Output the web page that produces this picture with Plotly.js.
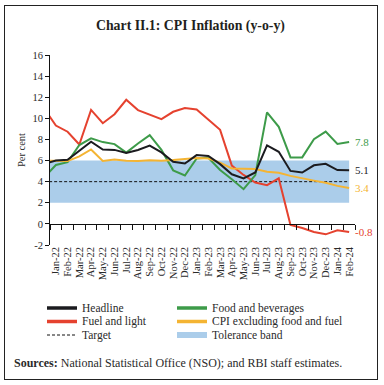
<!DOCTYPE html>
<html>
<head>
<meta charset="utf-8">
<script src="https://cdn.plot.ly/plotly-3.0.1.min.js"></script>
<style>
  html, body { margin: 0; padding: 0; background: #fff; }
  #wrap { position: relative; width: 384px; height: 385px; }
  #frame { position: absolute; left: 4px; top: 5px; width: 372px; height: 373px; border: 1.4px solid #222; pointer-events: none; z-index: 5; }
  #chart { position: absolute; left: 0; top: 0; width: 384px; height: 385px; }
</style>
</head>
<body>
<div id="wrap">
  <div id="chart"></div>
  <div id="frame"></div>
</div>
<script>
// Categories (Dec-21 is only partly visible at the left edge, clipped by the axis)
const months = ['Dec-21','Jan-22','Feb-22','Mar-22','Apr-22','May-22','Jun-22','Jul-22','Aug-22','Sep-22','Oct-22','Nov-22','Dec-22',
  'Jan-23','Feb-23','Mar-23','Apr-23','May-23','Jun-23','Jul-23','Aug-23','Sep-23','Oct-23','Nov-23','Dec-23','Jan-24','Feb-24'];

const headline = [5.66, 6.01, 6.07, 6.95, 7.79, 7.04, 7.01, 6.71, 7.00, 7.41, 6.77, 5.88, 5.72,
  6.52, 6.44, 5.66, 4.70, 4.31, 4.87, 7.44, 6.83, 5.02, 4.87, 5.55, 5.69, 5.10, 5.09];
const food = [4.40, 5.58, 5.85, 7.47, 8.10, 7.75, 7.56, 6.75, 7.62, 8.41, 7.01, 5.07, 4.58,
  6.20, 6.26, 5.11, 4.22, 3.29, 4.63, 10.57, 9.19, 6.30, 6.30, 8.02, 8.74, 7.58, 7.76];
const fuel = [10.95, 9.32, 8.73, 7.52, 10.80, 9.54, 10.39, 11.76, 10.78, 10.39, 9.93, 10.62, 10.97,
  10.84, 9.90, 8.91, 5.52, 4.64, 3.92, 3.67, 4.31, -0.11, -0.39, -0.77, -0.99, -0.60, -0.77];
const core = [6.00, 6.00, 5.95, 6.40, 7.05, 5.97, 6.10, 5.98, 5.95, 6.02, 5.98, 6.05, 6.15,
  6.25, 6.20, 5.80, 5.25, 5.20, 5.20, 4.95, 4.85, 4.55, 4.30, 4.10, 3.90, 3.60, 3.40];

const targetValue = 4;
const bandLow = 2;
const bandHigh = 6;

const seriesNames = ['Headline', 'Food and beverages', 'Fuel and light', 'CPI excluding food and fuel'];
const endLabels = ['5.1', '7.8', '-0.8', '3.4'];

const yTicks = [-2, 0, 2, 4, 6, 8, 10, 12, 14, 16];
const yRange = [-2, 16];

const colors = { headline: '#1b1b1f', food: '#3d9b49', fuel: '#e5422f', core: '#f4b433', band: '#abcdea', target: '#111111' };
const FONT = 'Liberation Serif, Times New Roman, serif';
const TXT = '#2a2a2a';

const targetArr = months.map(() => targetValue);
const lowArr = months.map(() => bandLow);
const highArr = months.map(() => bandHigh);

const traces = [
  { x: months, y: lowArr, type: 'scatter', mode: 'lines', line: { width: 0, color: colors.band }, hoverinfo: 'skip' },
  { x: months, y: highArr, type: 'scatter', mode: 'lines', fill: 'tonexty', fillcolor: colors.band,
    line: { width: 0, color: colors.band }, name: 'Tolerance band' },
  { x: months, y: targetArr, type: 'scatter', mode: 'lines', name: 'Target',
    line: { color: colors.target, width: 1, dash: '3px,2px' } },
  { x: months, y: fuel, type: 'scatter', mode: 'lines', name: seriesNames[2], line: { color: colors.fuel, width: 2 } },
  { x: months, y: food, type: 'scatter', mode: 'lines', name: seriesNames[1], line: { color: colors.food, width: 2 } },
  { x: months, y: core, type: 'scatter', mode: 'lines', name: seriesNames[3], line: { color: colors.core, width: 2 } },
  { x: months, y: headline, type: 'scatter', mode: 'lines', name: seriesNames[0], line: { color: colors.headline, width: 2 } }
];

// geometry helpers (pixel -> paper)
const M = { l: 50, r: 29, t: 55, b: 140 };
const W = 384, H = 385;
const plotW = W - M.l - M.r, plotH = H - M.t - M.b;
const px = v => (v - M.l) / plotW;
const py = v => (H - M.b - v) / plotH;

const last = months.length - 1;
const endSeries = [headline, food, fuel, core];
const endColors = [colors.headline, colors.food, colors.fuel, colors.core];
const annotations = endSeries.map((s, i) => ({
  x: months[last], y: s[last], xref: 'x', yref: 'y', text: endLabels[i], showarrow: false,
  xanchor: 'left', yanchor: 'middle', xshift: 4, font: { family: FONT, size: 11, color: endColors[i] }
}));

annotations.push({
  xref: 'paper', yref: 'paper', x: px(12), y: py(363),
  xanchor: 'left', yanchor: 'middle', showarrow: false, align: 'left',
  text: '<b>Sources:</b> National Statistical Office (NSO); and RBI staff estimates.',
  font: { family: FONT, size: 12, color: TXT }
});

// Custom legend (two columns, three rows)
const legendItems = [
  { name: seriesNames[0], color: colors.headline, kind: 'line', col: 0, row: 0 },
  { name: seriesNames[1], color: colors.food, kind: 'line', col: 1, row: 0 },
  { name: seriesNames[2], color: colors.fuel, kind: 'line', col: 0, row: 1 },
  { name: seriesNames[3], color: colors.core, kind: 'line', col: 1, row: 1 },
  { name: 'Target', color: colors.target, kind: 'dash', col: 0, row: 2 },
  { name: 'Tolerance band', color: colors.band, kind: 'rect', col: 1, row: 2 }
];
const legX0 = [47, 177], legRowY = [308, 321.5, 335], legSample = 30, legTextGap = 3;
const shapes = [];
legendItems.forEach(it => {
  const x0 = legX0[it.col], yy = legRowY[it.row];
  if (it.kind === 'rect') {
    shapes.push({ type: 'rect', xref: 'paper', yref: 'paper', x0: px(x0), x1: px(x0 + legSample),
      y0: py(yy - 3), y1: py(yy + 3), fillcolor: it.color, line: { width: 0 } });
  } else {
    shapes.push({ type: 'line', xref: 'paper', yref: 'paper', x0: px(x0), x1: px(x0 + legSample),
      y0: py(yy), y1: py(yy), line: it.kind === 'dash' ? { color: it.color, width: 1, dash: '3px,2px' } : { color: it.color, width: 3.5 } });
  }
  annotations.push({ xref: 'paper', yref: 'paper', x: px(x0 + legSample + legTextGap), y: py(yy),
    xanchor: 'left', yanchor: 'middle', showarrow: false, text: it.name,
    font: { family: FONT, size: 11.5, color: TXT } });
});

const layout = {
  width: W, height: H,
  margin: { l: M.l, r: M.r, t: M.t, b: M.b, pad: 0 },
  paper_bgcolor: '#fff', plot_bgcolor: '#fff',
  font: { family: FONT, color: TXT, size: 10 },
  title: { text: '<b>Chart II.1: CPI Inflation (y-o-y)</b>', xref: 'container', x: 0.496, y: 0.935,
    xanchor: 'center', yanchor: 'middle', font: { family: FONT, size: 13.8, color: '#231f20' } },
  showlegend: false,
  xaxis: {
    type: 'category', categoryorder: 'array', categoryarray: months,
    range: [0.5, months.length - 0.5], anchor: 'free',
    position: (0 - yRange[0]) / (yRange[1] - yRange[0]),
    showline: true, linecolor: '#111', linewidth: 1,
    tickmode: 'linear', tick0: 0, dtick: 1,
    ticks: 'outside', ticklen: 5, tickcolor: '#111', tickwidth: 1, tickson: 'boundaries',
    tickangle: -90, ticklabelstandoff: 18,
    tickfont: { family: FONT, size: 10.5, color: TXT },
    showgrid: false, zeroline: false, fixedrange: true
  },
  yaxis: {
    range: yRange, tickvals: yTicks, ticktext: yTicks.map(String),
    showline: true, linecolor: '#111', linewidth: 1,
    ticks: 'outside', ticklen: 4, tickcolor: '#111',
    tickfont: { family: FONT, size: 10.5, color: TXT },
    title: { text: 'Per cent', font: { family: FONT, size: 10.5, color: TXT }, standoff: 4 },
    showgrid: false, zeroline: false, fixedrange: true
  },
  shapes: shapes,
  annotations: annotations
};

Plotly.newPlot('chart', traces, layout, { displayModeBar: false, staticPlot: true });
</script>
</body>
</html>
